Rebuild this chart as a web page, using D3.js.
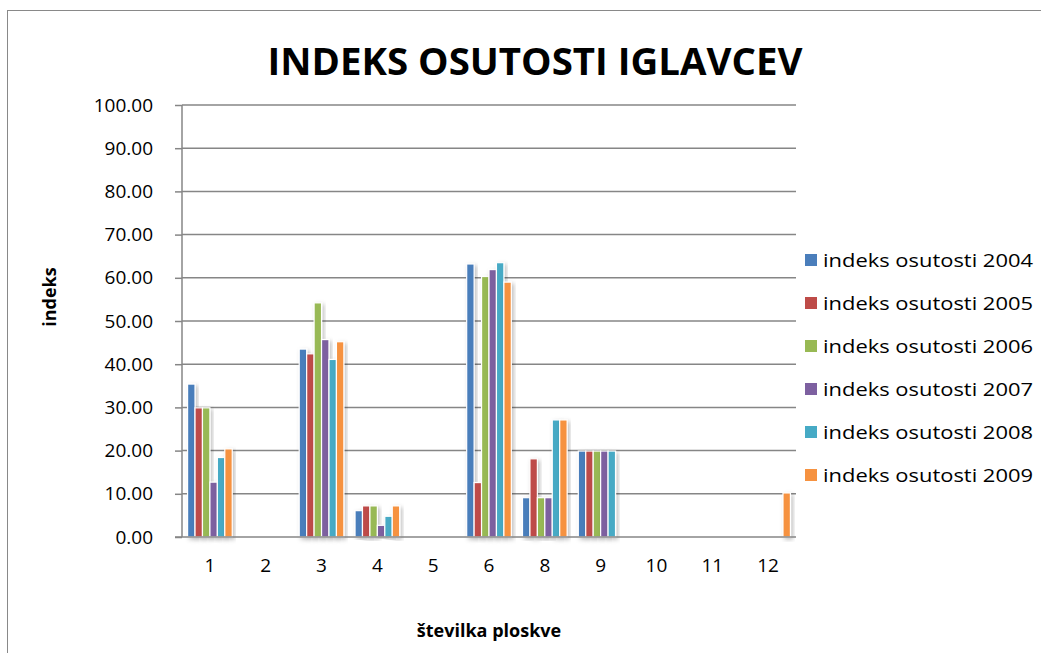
<!DOCTYPE html>
<html lang="en">
<head>
<meta charset="utf-8">
<title>Indeks osutosti iglavcev</title>
<script src="https://cdnjs.cloudflare.com/ajax/libs/d3/7.8.5/d3.min.js"></script>
<style>
  body { margin: 0; background: white; }
  svg { font-family: "Open Sans", "Noto Sans", sans-serif; }
  .grid line { stroke: #868686; stroke-width: 1.5; }
  .axis path, .axis line { stroke: #868686; stroke-width: 1.5; }
  .axis text { fill: #000; font-size: 19px; font-family: "Open Sans", "Noto Sans", sans-serif; }
</style>
</head>
<body>
<div id="chart"></div>
<script>
// plot numbers (x axis categories)
const plots = ["1", "2", "3", "4", "5", "6", "8", "9", "10", "11", "12"];
const years = ["2004", "2005", "2006", "2007", "2008", "2009"];
const yTicks = [0, 10, 20, 30, 40, 50, 60, 70, 80, 90, 100];

// index values per year, one per plot
const v2004 = [35.4, 0, 43.5, 6.1, 0, 63.2, 9.1, 19.9, 0, 0, 0];
const v2005 = [29.9, 0, 42.4, 7.2, 0, 12.6, 18.1, 19.9, 0, 0, 0];
const v2006 = [29.9, 0, 54.2, 7.2, 0, 60.3, 9.1, 19.9, 0, 0, 0];
const v2007 = [12.7, 0, 45.7, 2.7, 0, 61.9, 9.1, 19.9, 0, 0, 0];
const v2008 = [18.4, 0, 41.1, 4.8, 0, 63.5, 27.1, 19.9, 0, 0, 0];
const v2009 = [20.4, 0, 45.2, 7.2, 0, 59.0, 27.1, 0, 0, 0, 10.2];
const series = [v2004, v2005, v2006, v2007, v2008, v2009];

const colors = ["#4A7EBB", "#BE4B48", "#98B954", "#7D60A0", "#46AAC5", "#F69240"];

const W = 1041, H = 653;
const plotLeft = 182, plotRight = 796, plotTop = 105, plotBottom = 537;

const svg = d3.select("#chart").append("svg")
  .attr("width", W).attr("height", H);

const defs = svg.append("defs");
defs.append("filter").attr("id", "shadow")
  .attr("x", "-50%").attr("y", "-10%").attr("width", "200%").attr("height", "120%")
  .append("feDropShadow")
  .attr("dx", 2).attr("dy", 2).attr("stdDeviation", 2)
  .attr("flood-color", "#000").attr("flood-opacity", 0.25);

// chart frame
svg.append("rect")
  .attr("x", 7.5).attr("y", 10.5)
  .attr("width", W + 10).attr("height", H + 10)
  .attr("fill", "none").attr("stroke", "#898989").attr("stroke-width", 1);

const x = d3.scaleBand().domain(plots).range([plotLeft, plotRight]).paddingInner(0.2).paddingOuter(0.1);
const xs = d3.scaleBand().domain(years).range([0, x.bandwidth()]);
const y = d3.scaleLinear().domain([0, 100]).range([plotBottom, plotTop]);

// gridlines
svg.append("g").attr("class", "grid")
  .selectAll("line").data(yTicks.filter(d => d > 0)).enter().append("line")
  .attr("x1", plotLeft).attr("x2", plotRight)
  .attr("y1", d => y(d)).attr("y2", d => y(d));

// bars
const groups = svg.append("g").selectAll("g")
  .data(years).enter().append("g")
  .attr("fill", (d, i) => colors[i]);

groups.each(function(yr, si) {
  d3.select(this).selectAll("rect")
    .data(series[si].map((v, i) => ({ plot: plots[i], v: v })).filter(d => d.v > 0))
    .enter().append("rect")
    .attr("x", d => x(d.plot) + xs(yr))
    .attr("y", d => y(d.v))
    .attr("width", xs.bandwidth())
    .attr("height", d => plotBottom - y(d.v))
    .attr("stroke", "white").attr("stroke-width", 1.2)
    .attr("filter", "url(#shadow)");
});

// axes
const yAxis = d3.axisLeft(y).tickValues(yTicks).tickFormat(d3.format(".2f")).tickSize(7).tickPadding(22);
svg.append("g").attr("class", "axis").attr("transform", `translate(${plotLeft},0)`).call(yAxis)
  .call(g => g.select(".domain").attr("d", `M0,${plotTop}V${plotBottom}`));

const xAxis = d3.axisBottom(x).tickSize(0).tickPadding(22);
svg.append("g").attr("class", "axis").attr("transform", `translate(0,${plotBottom})`).call(xAxis)
  .call(g => g.select(".domain").attr("d", `M${plotLeft - 7},0H${plotRight}`));

// title and axis titles
svg.append("text")
  .attr("x", 535).attr("y", 75).attr("text-anchor", "middle")
  .attr("font-size", 38).attr("font-weight", "bold")
  .attr("textLength", 535).attr("lengthAdjust", "spacingAndGlyphs")
  .text("INDEKS OSUTOSTI IGLAVCEV");

svg.append("text")
  .attr("transform", "translate(56,297) rotate(-90)").attr("text-anchor", "middle")
  .attr("font-size", 18).attr("font-weight", "bold")
  .text("indeks");

svg.append("text")
  .attr("x", 489).attr("y", 637).attr("text-anchor", "middle")
  .attr("font-size", 18).attr("font-weight", "bold")
  .text("številka ploskve");

// legend
const legend = svg.append("g").selectAll("g")
  .data(years).enter().append("g")
  .attr("transform", (d, i) => `translate(805,${260 + i * 43})`);
legend.append("rect")
  .attr("x", 0).attr("y", -6).attr("width", 12).attr("height", 12)
  .attr("fill", (d, i) => colors[i]);
legend.append("text")
  .attr("x", 18).attr("y", 7)
  .attr("font-size", 19)
  .attr("textLength", 210).attr("lengthAdjust", "spacingAndGlyphs")
  .text(d => "indeks osutosti " + d);
</script>
</body>
</html>
